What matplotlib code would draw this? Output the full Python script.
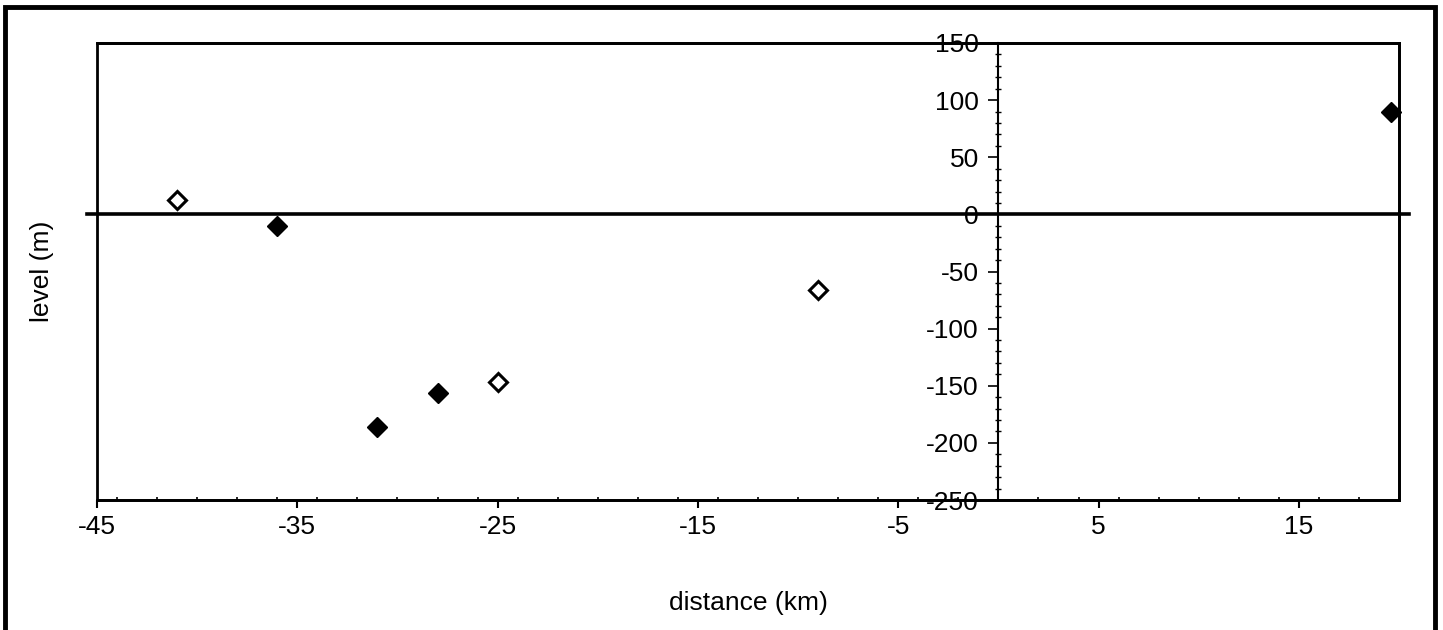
import matplotlib.pyplot as plt
from matplotlib.patches import Rectangle
from matplotlib.ticker import MultipleLocator

plt.rcParams['font.family'] = ['Liberation Sans', 'DejaVu Sans']
plt.rcParams['axes.unicode_minus'] = False

# filled diamonds
filled_x = [-36, -31, -28, 19.6]
filled_y = [-10, -186, -156, 90]
# open diamonds
open_x = [-41, -25, -9]
open_y = [13, -147, -66]

xticks = [-45, -35, -25, -15, -5, 5, 15]
yticks = [150, 100, 50, 0, -50, -100, -150, -200, -250]

fig = plt.figure(figsize=(14.43, 6.3), dpi=100)
ax = fig.add_axes([97 / 1443, 130 / 630, 1302 / 1443, 457 / 630])

ax.set_xlim(-45, 20)
ax.set_ylim(-250, 150)

# frame of the plot area
for s in ['top', 'bottom', 'right']:
    ax.spines[s].set_linewidth(2)
    ax.spines[s].set_color('black')
ax.spines['left'].set_position(('data', 0))
ax.spines['left'].set_linewidth(1.5)
ax.add_patch(Rectangle((0, 0), 1, 1, transform=ax.transAxes, fill=False,
                       lw=2, ec='black', zorder=3, clip_on=False))

# zero line
ax.plot([-45.5, 20.5], [0, 0], color='black', lw=2.6, clip_on=False, zorder=4)

ax.plot(filled_x, filled_y, 'D', color='black', ms=10, zorder=5, clip_on=False)
ax.plot(open_x, open_y, 'D', mfc='white', mec='black', mew=2.2, ms=9.5, zorder=5)

ax.set_xticks(xticks)
ax.set_yticks(yticks)
ax.xaxis.set_minor_locator(MultipleLocator(2))
ax.yaxis.set_minor_locator(MultipleLocator(10))
ax.tick_params(axis='x', which='major', direction='out', length=6, width=1.5,
               labelsize=19, pad=5)
ax.tick_params(axis='x', which='minor', direction='in', length=2, width=1.2)
ax.tick_params(axis='y', which='major', direction='out', length=7, width=1.2,
               labelsize=19, pad=7)
ax.tick_params(axis='y', which='minor', direction='inout', length=5, width=1)

ax.set_xlabel('distance (km)', fontsize=19, labelpad=37)
ax.text(-0.042, 0.5, 'level (m)', transform=ax.transAxes, rotation=90,
        ha='center', va='center', fontsize=19)

# outer border
fig.patches.append(Rectangle((5 / 1443, -0.05), 1435 / 1443 - 5 / 1443, 1.05 - 7 / 630,
                             transform=fig.transFigure, fill=False, lw=3.5,
                             ec='black'))

fig.savefig('out.png', dpi=100, facecolor='white')
